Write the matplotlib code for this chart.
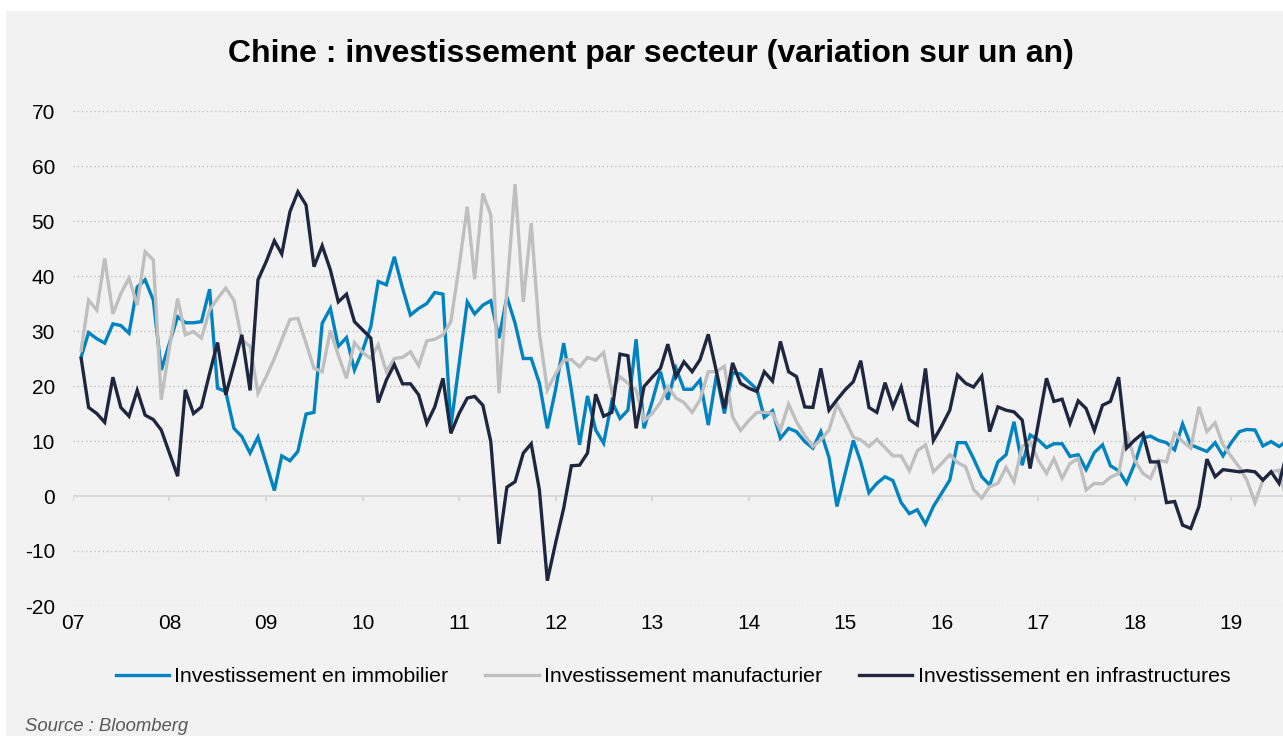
import numpy as np
import pandas as pd
import matplotlib
matplotlib.use('Agg')
import matplotlib.pyplot as plt
import matplotlib.dates as mdates
from matplotlib.patches import Rectangle

plt.rcParams['font.family'] = ['Liberation Sans', 'DejaVu Sans']
plt.rcParams['axes.unicode_minus'] = False

# Données mensuelles (variation sur un an, %), à partir de janvier 2007
immobilier = [
    25.3, 29.7, 28.6, 27.8, 31.3, 31.0, 29.6, 38.0, 39.3, 35.6,
    22.9, 27.8, 32.6, 31.5, 31.5, 31.7, 37.6, 19.6, 19.0, 12.3,
    10.8, 7.8, 10.7, 5.9, 1.0, 7.3, 6.4, 8.1, 14.9, 15.2,
    31.4, 34.1, 27.2, 28.8, 22.9, 26.5, 30.8, 39.0, 38.4, 43.5,
    37.8, 32.9, 34.1, 35.0, 37.0, 36.7, 12.6, 24.0, 35.3, 33.1,
    34.7, 35.5, 28.7, 36.2, 31.4, 25.0, 25.0, 20.5, 12.3, 19.3,
    27.8, 19.3, 9.3, 18.2, 12.0, 9.6, 17.2, 14.1, 15.6, 28.5,
    12.3, 17.2, 22.6, 17.5, 23.2, 19.4, 19.4, 21.1, 12.9, 22.0,
    15.0, 22.4, 22.2, 20.8, 19.4, 14.3, 15.5, 10.5, 12.3, 11.7,
    9.9, 8.7, 11.7, 7.0, -1.9, 4.1, 10.1, 6.2, 0.6, 2.3,
    3.5, 2.8, -1.2, -3.2, -2.5, -5.1, -1.9, 0.5, 2.9, 9.7,
    9.7, 6.8, 3.5, 2.0, 6.2, 7.5, 13.5, 5.6, 11.1, 10.2,
    8.8, 9.5, 9.5, 7.2, 7.5, 4.8, 7.9, 9.3, 5.5, 4.6,
    2.3, 5.9, 10.5, 10.9, 10.1, 9.7, 8.4, 13.1, 9.3, 8.7,
    8.1, 9.7, 7.3, 9.7, 11.7, 12.1, 12.0, 9.1, 9.9, 9.0,
    10.0,
]

manufacturier = [
    26.5, 35.6, 33.8, 43.2, 33.1, 36.8, 39.6, 34.7, 44.4, 42.9,
    17.5, 27.0, 35.9, 29.3, 29.9, 28.7, 33.8, 35.9, 37.8, 35.6,
    28.4, 27.2, 18.7, 21.7, 25.0, 28.4, 32.1, 32.3, 27.8, 23.2,
    22.6, 30.1, 25.6, 21.4, 27.9, 26.1, 25.0, 27.5, 22.6, 25.0,
    25.2, 26.2, 23.7, 28.2, 28.5, 29.3, 31.7, 41.7, 52.6, 39.4,
    55.0, 51.1, 18.7, 37.5, 56.7, 35.3, 49.6, 29.6, 19.3, 22.2,
    24.7, 24.8, 23.5, 25.2, 24.7, 26.1, 19.0, 21.7, 20.5, 19.3,
    13.7, 15.0, 17.0, 19.9, 17.8, 17.0, 15.2, 17.5, 22.6, 22.6,
    23.6, 14.4, 11.9, 13.7, 15.2, 15.2, 15.0, 12.0, 16.7, 13.5,
    11.0, 9.0, 10.2, 12.0, 16.7, 13.8, 10.7, 10.2, 9.0, 10.3,
    8.8, 7.3, 7.3, 4.6, 8.2, 9.3, 4.4, 5.9, 7.5, 6.1,
    5.3, 1.2, -0.4, 1.7, 2.3, 5.2, 2.6, 9.0, 9.9, 6.5,
    4.1, 6.8, 3.2, 5.9, 6.8, 1.1, 2.3, 2.2, 3.4, 4.1,
    11.7, 6.5, 4.1, 3.2, 6.5, 6.2, 11.4, 9.9, 8.7, 16.2,
    11.7, 13.3, 9.3, 7.2, 5.2, 2.9, -1.2, 2.9, 4.4, 4.7,
    -1.3,
]

infrastructures = [
    25.0, 16.1, 15.0, 13.4, 21.6, 16.1, 14.5, 19.2, 14.7, 13.9,
    12.0, 7.8, 3.6, 19.3, 15.0, 16.2, 22.3, 27.9, 18.4, 23.8,
    29.3, 19.2, 39.3, 42.6, 46.4, 44.0, 51.7, 55.3, 52.9, 41.7,
    45.5, 41.1, 35.3, 36.7, 31.7, 30.2, 28.7, 17.0, 21.1, 23.9,
    20.4, 20.4, 18.4, 13.2, 16.2, 21.4, 11.4, 15.0, 17.8, 18.1,
    16.5, 9.9, -8.7, 1.6, 2.6, 7.8, 9.5, 1.1, -15.4, -8.6,
    -2.2, 5.5, 5.6, 7.8, 18.5, 14.5, 15.2, 25.8, 25.5, 12.3,
    19.9, 21.6, 23.2, 27.6, 21.7, 24.4, 22.6, 24.8, 29.4, 22.6,
    15.9, 24.2, 20.5, 19.6, 19.0, 22.6, 20.9, 28.1, 22.6, 21.7,
    16.2, 16.1, 23.2, 15.6, 17.5, 19.3, 20.8, 24.6, 16.1, 15.2,
    20.6, 16.2, 19.8, 13.9, 12.9, 23.2, 10.1, 12.7, 15.6, 22.0,
    20.5, 19.8, 21.8, 11.7, 16.2, 15.6, 15.3, 13.8, 5.0, 13.2,
    21.4, 17.2, 17.6, 13.2, 17.3, 15.9, 11.9, 16.5, 17.2, 21.6,
    8.7, 10.2, 11.4, 6.2, 6.2, -1.2, -1.0, -5.3, -5.9, -1.9,
    6.7, 3.5, 4.8, 4.6, 4.4, 4.6, 4.4, 2.9, 4.4, 2.3,
    8.0,
]

series_labels = ['Investissement en immobilier', 'Investissement manufacturier',
                 'Investissement en infrastructures']
colors = ['#0083c1', '#bfbfbf', '#1f2740']

dates = pd.period_range(start='2007-01', periods=len(immobilier), freq='M').to_timestamp(how='end')
years = pd.date_range('2007-01-01', '2019-01-01', freq='YS')

W, H = 1283, 736
fig = plt.figure(figsize=(W / 100, H / 100), dpi=100, facecolor='white')
fig.patches.append(Rectangle((6 / W, 0), 1, (H - 11) / H, transform=fig.transFigure,
                             facecolor='#f2f2f2', edgecolor='none', zorder=-10))

ax = fig.add_axes([73 / W, 1 - 606 / H, (W - 73) / W, (606 - 111) / H])
ax.set_facecolor('none')

for vals, lab, c in zip([immobilier, manufacturier, infrastructures], series_labels, colors):
    ax.plot(dates, vals, color=c, linewidth=2.4, label=lab, solid_joinstyle='miter', zorder=3)

ax.set_xlim(pd.Timestamp('2007-01-01'), pd.Timestamp('2019-07-16'))
ax.set_ylim(-20, 70)
ax.set_yticks(range(-20, 71, 10))
ax.set_xticks(years)
ax.xaxis.set_major_formatter(mdates.DateFormatter('%y'))

for v in range(-20, 71, 10):
    if v != 0:
        ax.axhline(v, color='#bfbfbf', linewidth=1, linestyle=(0, (1, 2)), zorder=1)
ax.axhline(0, color='#d9d9d9', linewidth=1.5, zorder=2)
ax.vlines(years, -0.9, 0, color='#d9d9d9', linewidth=1.5, zorder=2)

for s in ax.spines.values():
    s.set_visible(False)
ax.tick_params(axis='both', length=0, labelsize=15, labelcolor='black')
ax.tick_params(axis='y', pad=13)
ax.tick_params(axis='x', pad=6)

fig.text(0.507, 1 - 54 / H, 'Chine : investissement par secteur (variation sur un an)',
         ha='center', va='center', fontsize=23, fontweight='bold')

fig.legend(loc='center', bbox_to_anchor=(673 / W, 1 - 677 / H), ncol=3, frameon=False,
           fontsize=15.3, handlelength=2.5, handletextpad=0.25, columnspacing=1.75)

fig.text(25 / W, 5 / H, 'Source : Bloomberg', ha='left', va='baseline',
         fontsize=13.3, style='italic', color='#595959')

fig.savefig('out.png', dpi=100, facecolor=fig.get_facecolor())
